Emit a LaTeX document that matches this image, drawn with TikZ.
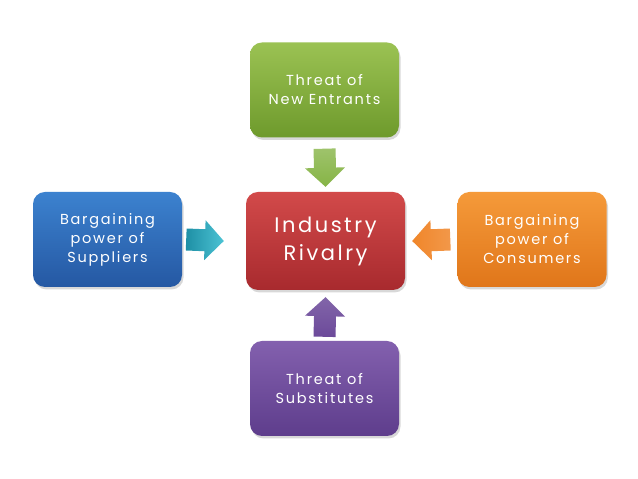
\documentclass[tikz,border=0pt]{standalone}
\usepackage{fontspec}
\setmainfont{Poppins}[LetterSpace=12]
\usetikzlibrary{shadows,calc}
\definecolor{grnT}{HTML}{9BC253}
\definecolor{grnB}{HTML}{6E9A2C}
\definecolor{redT}{HTML}{D24A4A}
\definecolor{redB}{HTML}{A82A2E}
\definecolor{bluT}{HTML}{3C82CF}
\definecolor{bluB}{HTML}{2558A3}
\definecolor{oraT}{HTML}{F59A3A}
\definecolor{oraB}{HTML}{E0761A}
\definecolor{purT}{HTML}{8360AE}
\definecolor{purB}{HTML}{5E3D8C}
\definecolor{cyaT}{HTML}{4CC3D4}
\definecolor{cyaB}{HTML}{1E8FA5}
\definecolor{grnA}{HTML}{86B446}
\definecolor{oraA}{HTML}{F0862A}
\definecolor{purA}{HTML}{6C4A9A}
\tikzset{
  box/.style={rounded corners=12pt, minimum width=149pt, minimum height=95pt,
    align=center, text=white, font=\fontsize{14.5}{19}\selectfont,
    drop shadow={shadow xshift=1.5pt, shadow yshift=-2.5pt, opacity=0.3}}
}
\newcommand\fatarr[3]{%
  \coordinate (h) at ($(#3)!19pt!(#2)$);
  \path[#1] ($(#2)!11pt!90:(#3)$) -- ($(h)!11pt!90:(#3)$) -- ($(h)!20pt!90:(#3)$)
    -- (#3) -- ($(h)!20pt!-90:(#3)$) -- ($(h)!11pt!-90:(#3)$)
    -- ($(#2)!11pt!-90:(#3)$) -- cycle;}
\begin{document}
\begin{tikzpicture}[x=1pt,y=1pt]
\useasboundingbox[fill=white] (0,0) rectangle (638,479);
\node[box, top color=grnT, bottom color=grnB] (ne) at (324.5,389) {Threat of\\New Entrants};
\node[box, top color=redT, bottom color=redB, minimum width=159pt, minimum height=98pt,
  font=\fontsize{21}{28}\selectfont] (ir) at (325.5,238) {Industry\\Rivalry};
\node[box, top color=bluT, bottom color=bluB] (su) at (107.5,239.5) {Bargaining\\power of\\Suppliers};
\node[box, top color=oraT, bottom color=oraB] (co) at (532,239.5) {Bargaining\\power of\\Consumers};
\node[box, top color=purT, bottom color=purB] (sb) at (324.5,90.5) {Threat of\\Substitutes};
\coordinate (a1s) at ($(ne.south)+(0,-11)$);
\coordinate (a1e) at ($(ir.north)+(0,5)$);
\coordinate (a2s) at ($(su.east)+(4,0)$);
\coordinate (a2e) at ($(ir.west)+(-22,0)$);
\coordinate (a3s) at ($(co.west)+(-7,0)$);
\coordinate (a3e) at ($(ir.east)+(7,0)$);
\coordinate (a4s) at ($(sb.north)+(0,4)$);
\coordinate (a4e) at ($(ir.south)+(0,-7)$);
\fatarr{top color=grnA!80!white, bottom color=grnA}{a1s}{a1e}
\fatarr{left color=cyaB, right color=cyaT}{a2s}{a2e}
\fatarr{left color=oraA, right color=oraA!85!white}{a3s}{a3e}
\fatarr{top color=purA!85!white, bottom color=purA}{a4s}{a4e}
\end{tikzpicture}
\end{document}
